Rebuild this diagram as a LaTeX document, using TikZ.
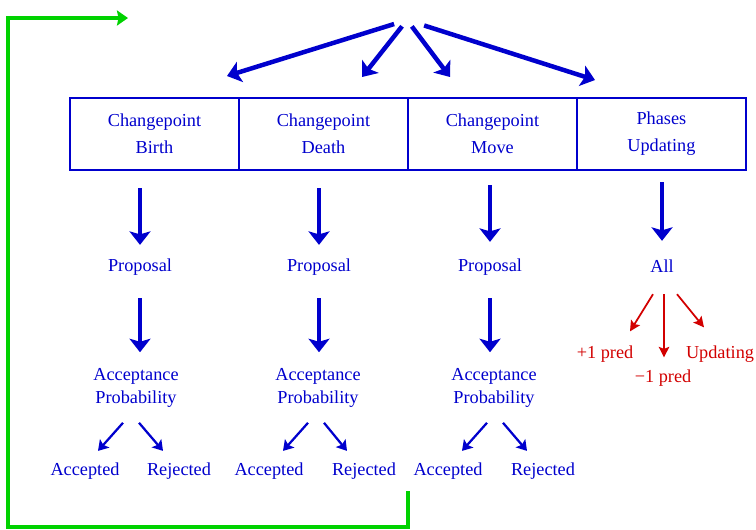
\documentclass[tikz,border=0pt]{standalone}
\usepackage{fontspec}
\setmainfont{Liberation Serif}
\usetikzlibrary{arrows.meta,positioning}

\definecolor{flowblue}{RGB}{0,0,205}
\definecolor{flowred}{RGB}{210,0,0}
\definecolor{flowgreen}{RGB}{0,210,0}

\begin{document}
\begin{tikzpicture}[x=0.02cm, y=-0.02cm,
    flowtext/.style={inner sep=0pt, align=center, text=flowblue, font=\fontsize{10.4}{13}\selectfont},
    redtext/.style={flowtext, text=flowred},
    kernelbox/.style={draw=flowblue, line width=0.026cm, minimum width=3.38cm, minimum height=1.44cm,
        outer sep=0pt, align=center, text=flowblue, font=\fontsize{10.4}{15.3}\selectfont},
    bigarrow/.style={-{Stealth[length=0.27cm, width=0.42cm, inset=0.06cm]}, line width=0.09cm, flowblue},
    smallarrow/.style={-{Stealth[length=0.2cm, width=0.25cm, inset=0.04cm]}, line width=0.045cm, flowblue},
    redarrow/.style={-{Stealth[length=0.21cm, width=0.21cm, inset=0.04cm]}, line width=0.035cm, flowred},
    looparrow/.style={-{Stealth[length=0.22cm, width=0.3cm, inset=0.03cm]}, line width=0.07cm, flowgreen}]

    \useasboundingbox (0,0) rectangle (756,529);

    % the four moves
    \node[kernelbox] (birth) at (154.5,134) {Changepoint\\Birth};
    \node[kernelbox, right=0pt of birth] (death) {Changepoint\\Death};
    \node[kernelbox, right=0pt of death] (move) {Changepoint\\Move};
    \node[kernelbox, right=0pt of move] (phases) {Phases\\Updating};

    % choice of move
    \coordinate (fork) at (407,20);
    \coordinate (tbirth) at (227,76);
    \coordinate (tdeath) at (362,77);
    \coordinate (tmove) at (450,77);
    \coordinate (tphases) at (595,80);
    \draw[bigarrow, shorten <=0.27cm] (fork) -- (tbirth);
    \draw[bigarrow, shorten <=0.16cm] (fork) -- (tdeath);
    \draw[bigarrow, shorten <=0.16cm] (fork) -- (tmove);
    \draw[bigarrow, shorten <=0.36cm] (fork) -- (tphases);

    % columns
    \node[flowtext] (prop1) at (140,267.5) {Proposal};
    \node[flowtext] (acc1) at (136,388) {Acceptance\\Probability};
    \node[flowtext] (yes1) at (85,471.5) {Accepted};
    \node[flowtext] (no1) at (179,471.5) {Rejected};

    \node[flowtext] (prop2) at (319,267.5) {Proposal};
    \node[flowtext] (acc2) at (318,388) {Acceptance\\Probability};
    \node[flowtext] (yes2) at (269,471.5) {Accepted};
    \node[flowtext] (no2) at (364,471.5) {Rejected};

    \node[flowtext] (prop3) at (490,267.5) {Proposal};
    \node[flowtext] (acc3) at (494,388) {Acceptance\\Probability};
    \node[flowtext] (yes3) at (448,471.5) {Accepted};
    \node[flowtext] (no3) at (543,471.5) {Rejected};

    \node[flowtext] (all) at (662,266.5) {All};
    \node[redtext] (plus) at (605,354) {+1 pred};
    \node[redtext] (minus) at (663,378) {−1 pred};
    \node[redtext] (upd) at (720,354) {Updating};

    \draw[bigarrow, shorten <=0.36cm, shorten >=0.28cm] (birth.south -| prop1) -- (prop1);
    \draw[bigarrow, shorten <=0.36cm, shorten >=0.28cm] (death.south -| prop2) -- (prop2);
    \draw[bigarrow, shorten <=0.3cm, shorten >=0.34cm] (move.south -| prop3) -- (prop3);
    \draw[bigarrow, shorten <=0.24cm, shorten >=0.38cm] (phases.south -| all) -- (all);

    \draw[bigarrow, shorten <=0.44cm, shorten >=0.32cm] (prop1) -- (prop1 |- acc1.north);
    \draw[bigarrow, shorten <=0.44cm, shorten >=0.32cm] (prop2) -- (prop2 |- acc2.north);
    \draw[bigarrow, shorten <=0.44cm, shorten >=0.32cm] (prop3) -- (prop3 |- acc3.north);

    \draw[smallarrow] ([shift={(-13,15)}]acc1.south) -- ([shift={(13,-12)}]yes1.north);
    \draw[smallarrow] ([shift={(3,15)}]acc1.south) -- ([shift={(-16,-12)}]no1.north);
    \draw[smallarrow] ([shift={(-10,15)}]acc2.south) -- ([shift={(14,-12)}]yes2.north);
    \draw[smallarrow] ([shift={(6,15)}]acc2.south) -- ([shift={(-17,-12)}]no2.north);
    \draw[smallarrow] ([shift={(-7,15)}]acc3.south) -- ([shift={(14,-12)}]yes3.north);
    \draw[smallarrow] ([shift={(9,15)}]acc3.south) -- ([shift={(-16,-12)}]no3.north);

    \draw[redarrow] ([shift={(-9,21)}]all.south) -- ([shift={(25,-14)}]plus.north);
    \draw[redarrow] ([shift={(2,21)}]all.south) -- ([shift={(1,-12)}]minus.north);
    \draw[redarrow] ([shift={(15,21)}]all.south) -- ([shift={(-16,-18)}]upd.north);

    % back to the start
    \coordinate (loopstart) at (408,491);
    \coordinate (loopend) at (128,18);
    \draw[looparrow] (loopstart) |- (8,527) |- (loopend);
\end{tikzpicture}
\end{document}
